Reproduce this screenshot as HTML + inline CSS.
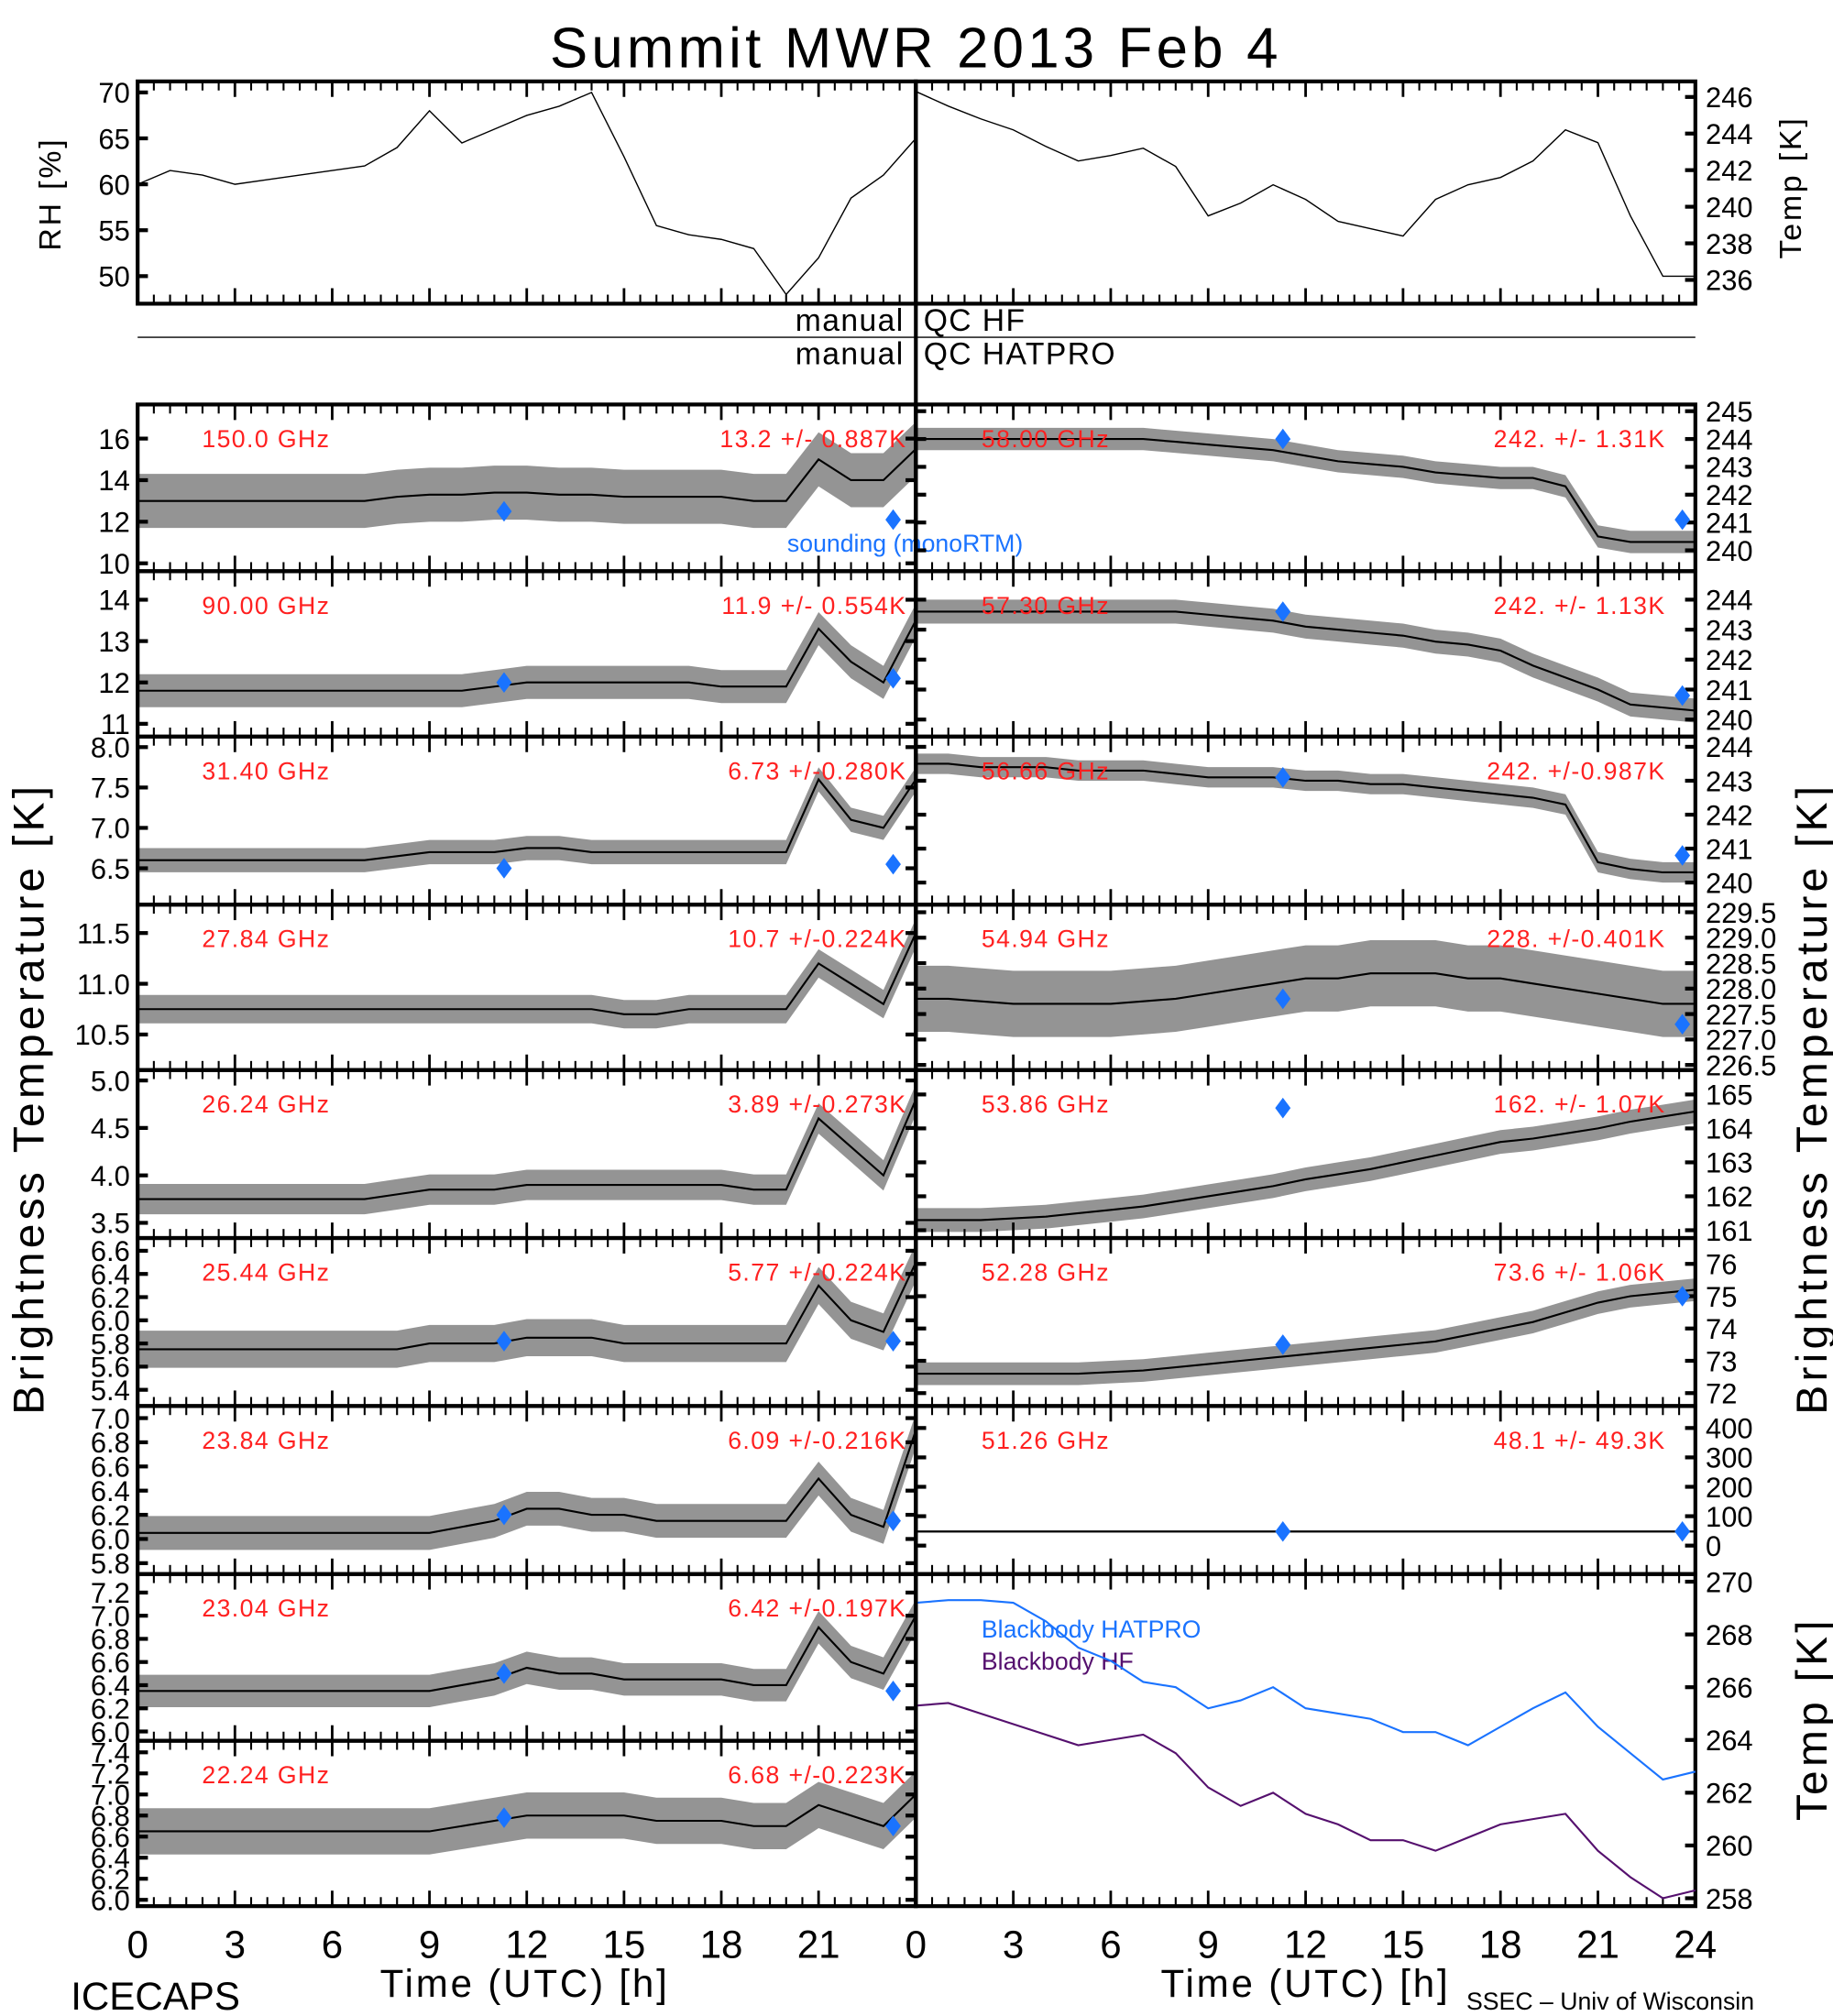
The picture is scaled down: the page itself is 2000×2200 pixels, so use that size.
<!DOCTYPE html>
<html><head><meta charset="utf-8"><style>
html,body{margin:0;padding:0;background:#fff}
svg{display:block}
text{font-family:"Liberation Sans",sans-serif}
</style></head><body>
<svg id="chart" xmlns="http://www.w3.org/2000/svg" width="2000" height="2200" viewBox="0 0 1425 1560" preserveAspectRatio="none">
<text x="712" y="52" font-size="44" text-anchor="middle" letter-spacing="3">Summit  MWR  2013  Feb   4</text>
<text x="703" y="256" font-size="24" text-anchor="end" letter-spacing="1">manual</text>
<text x="718" y="256" font-size="24" letter-spacing="1">QC  HF</text>
<line x1="107" y1="261" x2="1318" y2="261" stroke="#000" stroke-width="1"/>
<text x="703" y="282" font-size="24" text-anchor="end" letter-spacing="1">manual</text>
<text x="718" y="282" font-size="24" letter-spacing="1">QC  HATPRO</text>
<text transform="translate(47,150) rotate(-90)" font-size="24" text-anchor="middle" letter-spacing="2">RH  [%]</text>
<text transform="translate(1400,145) rotate(-90)" font-size="24" text-anchor="middle" letter-spacing="2">Temp  [K]</text>
<text transform="translate(34,850) rotate(-90)" font-size="34" text-anchor="middle" letter-spacing="3">Brightness  Temperature  [K]</text>
<text transform="translate(1420,850) rotate(-90)" font-size="34" text-anchor="middle" letter-spacing="3">Brightness  Temperature  [K]</text>
<text transform="translate(1420,1330) rotate(-90)" font-size="34" text-anchor="middle" letter-spacing="3">Temp  [K]</text>
<text x="408" y="1545" font-size="30" text-anchor="middle" letter-spacing="2">Time  (UTC)  [h]</text>
<text x="1015" y="1545" font-size="30" text-anchor="middle" letter-spacing="2">Time  (UTC)  [h]</text>
<text x="55" y="1555" font-size="30">ICECAPS</text>
<text x="1140" y="1555" font-size="19">SSEC  –  Univ of Wisconsin</text>
<text x="612" y="427" font-size="19" fill="#1a73ff">sounding  (monoRTM)</text>
<text x="763" y="1267" font-size="19" fill="#1a73ff">Blackbody  HATPRO</text>
<text x="763" y="1292" font-size="19" fill="#55106e">Blackbody  HF</text>
<g id="plots"></g>
</svg>
<script>
// hourly samples 0..24 h
const hours = [0,1,2,3,4,5,6,7,8,9,10,11,12,13,14,15,16,17,18,19,20,21,22,23,24];
const xTickLabels = ["0","3","6","9","12","15","18","21"];
const xTickLabelsRight = ["0","3","6","9","12","15","18","21","24"];
// top panels
const rhValues = [60,61.5,61,60,60.5,61,61.5,62,64,68,64.5,66,67.5,68.5,70,63,55.5,54.5,54,53,48,52,58.5,61,65];
const tempValues = [246.3,245.5,244.8,244.2,243.3,242.5,242.8,243.2,242.2,239.5,240.2,241.2,240.4,239.2,238.8,238.4,240.4,241.2,241.6,242.5,244.2,243.5,239.5,236.2,236.2];
const rhTicks = [50,55,60,65,70];
const tempTicks = [236,238,240,242,244,246];
// left channel panels
const leftFreqs = ["150.0 GHz","90.00 GHz","31.40 GHz","27.84 GHz","26.24 GHz","25.44 GHz","23.84 GHz","23.04 GHz","22.24 GHz"];
const leftStats = ["13.2 +/- 0.887K","11.9 +/- 0.554K","6.73 +/-0.280K","10.7 +/-0.224K","3.89 +/-0.273K","5.77 +/-0.224K","6.09 +/-0.216K","6.42 +/-0.197K","6.68 +/-0.223K"];
const leftCenter = [
 [13,13,13,13,13,13,13,13,13.2,13.3,13.3,13.4,13.4,13.3,13.3,13.2,13.2,13.2,13.2,13,13,15,14,14,15.5],
 [11.8,11.8,11.8,11.8,11.8,11.8,11.8,11.8,11.8,11.8,11.8,11.9,12,12,12,12,12,12,11.9,11.9,11.9,13.3,12.5,12.0,13.5],
 [6.6,6.6,6.6,6.6,6.6,6.6,6.6,6.6,6.65,6.7,6.7,6.7,6.75,6.75,6.7,6.7,6.7,6.7,6.7,6.7,6.7,7.6,7.1,7.0,7.6],
 [10.75,10.75,10.75,10.75,10.75,10.75,10.75,10.75,10.75,10.75,10.75,10.75,10.75,10.75,10.75,10.7,10.7,10.75,10.75,10.75,10.75,11.2,11.0,10.8,11.5],
 [3.75,3.75,3.75,3.75,3.75,3.75,3.75,3.75,3.8,3.85,3.85,3.85,3.9,3.9,3.9,3.9,3.9,3.9,3.9,3.85,3.85,4.6,4.3,4.0,4.8],
 [5.75,5.75,5.75,5.75,5.75,5.75,5.75,5.75,5.75,5.8,5.8,5.8,5.85,5.85,5.85,5.8,5.8,5.8,5.8,5.8,5.8,6.3,6.0,5.9,6.5],
 [6.05,6.05,6.05,6.05,6.05,6.05,6.05,6.05,6.05,6.05,6.1,6.15,6.25,6.25,6.2,6.2,6.15,6.15,6.15,6.15,6.15,6.5,6.2,6.1,6.9],
 [6.35,6.35,6.35,6.35,6.35,6.35,6.35,6.35,6.35,6.35,6.4,6.45,6.55,6.5,6.5,6.45,6.45,6.45,6.45,6.4,6.4,6.9,6.6,6.5,7.0],
 [6.65,6.65,6.65,6.65,6.65,6.65,6.65,6.65,6.65,6.65,6.7,6.75,6.8,6.8,6.8,6.8,6.75,6.75,6.75,6.7,6.7,6.9,6.8,6.7,7.0]
];
const leftSpread = [1.3,0.4,0.15,0.14,0.16,0.16,0.14,0.14,0.22];
const leftTicks = [[10,12,14,16],[11,12,13,14],[6.5,7.0,7.5,8.0],[10.5,11.0,11.5],[3.5,4.0,4.5,5.0],[5.4,5.6,5.8,6.0,6.2,6.4,6.6],[5.8,6.0,6.2,6.4,6.6,6.8,7.0],[6.0,6.2,6.4,6.6,6.8,7.0,7.2],[6.0,6.2,6.4,6.6,6.8,7.0,7.2,7.4]];
const leftRange = [[9.62,17.64],[10.69,14.69],[6.05,8.13],[10.15,11.78],[3.34,5.11],[5.26,6.71],[5.71,7.10],[5.92,7.36],[5.94,7.51]];
const leftDiamonds = [[12.5,12.1],[12.0,12.1],[6.5,6.55],[null,null],[null,null],[5.82,5.82],[6.2,6.15],[6.5,6.35],[6.78,6.7]];
const sondeHours = [11.3,23.3];
const sondeHoursRight = [11.3,23.6];
// right channel panels
const rightFreqs = ["58.00 GHz","57.30 GHz","56.66 GHz","54.94 GHz","53.86 GHz","52.28 GHz","51.26 GHz"];
const rightStats = ["242. +/- 1.31K","242. +/- 1.13K","242. +/-0.987K","228. +/-0.401K","162. +/- 1.07K","73.6 +/- 1.06K","48.1 +/- 49.3K"];
const rightCenter = [
 [244,244,244,244,244,244,244,244,243.9,243.8,243.7,243.6,243.4,243.2,243.1,243,242.8,242.7,242.6,242.6,242.3,240.5,240.3,240.3,240.3],
 [243.6,243.6,243.6,243.6,243.6,243.6,243.6,243.6,243.6,243.5,243.4,243.3,243.1,243,242.9,242.8,242.6,242.5,242.3,241.8,241.4,241.0,240.5,240.4,240.3],
 [243.5,243.5,243.4,243.4,243.4,243.3,243.3,243.3,243.2,243.1,243.1,243.1,243,243,242.9,242.9,242.8,242.7,242.6,242.5,242.3,240.6,240.4,240.3,240.3],
 [227.8,227.8,227.75,227.7,227.7,227.7,227.7,227.75,227.8,227.9,228,228.1,228.2,228.2,228.3,228.3,228.3,228.2,228.2,228.1,228,227.9,227.8,227.7,227.7],
 [161.3,161.3,161.3,161.35,161.4,161.5,161.6,161.7,161.85,162,162.15,162.3,162.5,162.65,162.8,163,163.2,163.4,163.6,163.7,163.85,164,164.2,164.35,164.5],
 [72.6,72.6,72.6,72.6,72.6,72.6,72.65,72.7,72.8,72.9,73,73.1,73.2,73.3,73.4,73.5,73.6,73.8,74,74.2,74.5,74.8,75,75.1,75.2],
 [48,48,48,48,48,48,48,48,48,48,48,48,48,48,48,48,48,48,48,48,48,48,48,48,48]
];
const rightSpread = [0.4,0.4,0.3,0.65,0.35,0.35,4];
const rightTicks = [[240,241,242,243,244,245],[240,241,242,243,244],[240,241,242,243,244],[226.5,227.0,227.5,228.0,228.5,229.0,229.5],[161,162,163,164,165],[72,73,74,75,76],[0,100,200,300,400]];
const rightRange = [[239.25,245.24],[239.43,244.95],[239.35,244.3],[226.4,229.65],[160.77,165.72],[71.6,76.8],[-96.7,474.7]];
const rightDiamonds = [[244.0,241.1],[243.6,240.8],[243.1,240.8],[227.8,227.3],[164.6,null],[73.5,75.0],[48,48]];
// blackbody
const bbHatpro = [269.2,269.3,269.3,269.2,268.5,267.5,267,266.2,266,265.2,265.5,266,265.2,265,264.8,264.3,264.3,263.8,264.5,265.2,265.8,264.5,263.5,262.5,262.8];
const bbHF = [265.3,265.4,265,264.6,264.2,263.8,264,264.2,263.5,262.2,261.5,262,261.2,260.8,260.2,260.2,259.8,260.3,260.8,261,261.2,259.8,258.8,258,258.3];
const bbTicks = [258,260,262,264,266,268,270];
const bbRange = [257.7,270.29];

const NS="http://www.w3.org/2000/svg";
const root=document.getElementById('plots');
function mk(tag,attrs,parent){const e=document.createElementNS(NS,tag);for(const k in attrs)e.setAttribute(k,attrs[k]);(parent||root).appendChild(e);return e;}
const LX0=107,LX1=712,RX0=712,RX1=1318;
function xs(x0,x1){return h=>x0+(x1-x0)*h/24;}
function ys(y0,y1,lo,hi){return v=>y1-(v-lo)/(hi-lo)*(y1-y0);}

function frame(x0,x1,y0,y1,name){
  const g=mk('g',{});
  
  
  const X=xs(x0,x1);
  for(let h=0;h<=24;h+=0.5){
    const major=(h%3===0);const L=major?12:7;
    mk('line',{x1:X(h),x2:X(h),y1:y1,y2:y1-L,stroke:'#000','stroke-width':major?2:1.5},g);
    mk('line',{x1:X(h),x2:X(h),y1:y0,y2:y0+L,stroke:'#000','stroke-width':major?2:1.5},g);
  }
  mk('rect',{x:x0,y:y0,width:x1-x0,height:y1-y0,fill:'none',stroke:'#000','stroke-width':3},g);
  return g;
}
function yTicks(g,x,ticks,Y,side,labels){
  ticks.forEach(t=>{
    const y=Y(t);
    mk('line',{x1:x,x2:x+(side==='left'?8:-8),y1:y,y2:y,stroke:'#000','stroke-width':3},g);
    if(labels){
      const tx=mk('text',{x:side==='left'?x-6:x+8,y:y+8,'font-size':22,'text-anchor':side==='left'?'end':'start'},g);
      
      
      tx.textContent=(Math.abs(t%1)>0||ticks.some(v=>v%1))?t.toFixed(1):String(t);
    }
  });
}
function band(g,X,Y,center,spread,name){
  let up=[],dn=[];
  hours.forEach((h,i)=>{up.push(X(h)+','+Y(center[i]+spread));dn.unshift(X(h)+','+Y(center[i]-spread));});
  const p=mk('polygon',{points:up.concat(dn).join(' '),fill:'#000','fill-opacity':0.42},g);
  
  
  const l=mk('polyline',{points:hours.map((h,i)=>X(h)+','+Y(center[i])).join(' '),fill:'none',stroke:'#000','stroke-width':1.5},g);
  
  
}
function diamond(g,x,y){
  const d=mk('polygon',{points:`${x},${y-8} ${x+6},${y} ${x},${y+8} ${x-6},${y}`,fill:'#1a73ff'},g);
  
  
}
function redText(g,x,y,s,anchor,name){
  const t=mk('text',{x:x,y:y,'font-size':19,fill:'#ff2020','text-anchor':anchor,'letter-spacing':1},g);
  
  
  t.textContent=s;
}

// top panels
(function(){
  const g=frame(LX0,LX1,63,235,'rh-panel');
  const X=xs(LX0,LX1),Y=ys(63,235,47,71.2);
  const l=mk('polyline',{points:hours.map((h,i)=>X(h)+','+Y(rhValues[i])).join(' '),fill:'none',stroke:'#000','stroke-width':1},g);
  
  
  yTicks(g,LX0,rhTicks,Y,'left',true);
  const g2=frame(RX0,RX1,63,235,'temp-panel');
  const X2=xs(RX0,RX1),Y2=ys(63,235,234.7,246.85);
  const l2=mk('polyline',{points:hours.map((h,i)=>X2(h)+','+Y2(tempValues[i])).join(' '),fill:'none',stroke:'#000','stroke-width':1},g2);
  
  
  yTicks(g2,RX1,tempTicks,Y2,'right',true);
})();

const rowTop=[313,442,570,700,828,958,1088,1218,1347];
const rowBot=[442,570,700,828,958,1088,1218,1347,1475];
leftFreqs.forEach((f,i)=>{
  const y0=rowTop[i],y1=rowBot[i];
  const g=frame(LX0,LX1,y0,y1,'left-panel-'+f.replace(/[ .]/g,''));
  const X=xs(LX0,LX1),Y=ys(y0,y1,leftRange[i][0],leftRange[i][1]);
  band(g,X,Y,leftCenter[i],leftSpread[i],'tb-series');
  yTicks(g,LX0,leftTicks[i],Y,'left',true);
  yTicks(g,LX1,leftTicks[i],Y,'right',false);
  leftDiamonds[i].forEach((v,j)=>{if(v!==null)diamond(g,X(sondeHours[j]),Y(v));});
  redText(g,157,y0+33,f,'start','frequency-label');
  redText(g,705,y0+33,leftStats[i],'end','stats-label');
});
rightFreqs.forEach((f,i)=>{
  const y0=rowTop[i],y1=rowBot[i];
  const g=frame(RX0,RX1,y0,y1,'right-panel-'+f.replace(/[ .]/g,''));
  const X=xs(RX0,RX1),Y=ys(y0,y1,rightRange[i][0],rightRange[i][1]);
  band(g,X,Y,rightCenter[i],rightSpread[i],'tb-series');
  yTicks(g,RX1,rightTicks[i],Y,'right',true);
  yTicks(g,RX0,rightTicks[i],Y,'left',false);
  rightDiamonds[i].forEach((v,j)=>{if(v!==null)diamond(g,X(sondeHoursRight[j]),Y(v));});
  redText(g,763,y0+33,f,'start','frequency-label');
  redText(g,1295,y0+33,rightStats[i],'end','stats-label');
});
// blackbody panel
(function(){
  const y0=1218,y1=1475;
  const g=frame(RX0,RX1,y0,y1,'blackbody-panel');
  const X=xs(RX0,RX1),Y=ys(y0,y1,bbRange[0],bbRange[1]);
  const a=mk('polyline',{points:hours.map((h,i)=>X(h)+','+Y(bbHatpro[i])).join(' '),fill:'none',stroke:'#1a73ff','stroke-width':1.5},g);
  
  
  const b=mk('polyline',{points:hours.map((h,i)=>X(h)+','+Y(bbHF[i])).join(' '),fill:'none',stroke:'#55106e','stroke-width':1.5},g);
  
  
  yTicks(g,RX1,bbTicks,Y,'right',true);
})();
// central divider
const dv=mk('line',{x1:712,x2:712,y1:63,y2:1475,stroke:'#000','stroke-width':3});


// x tick labels
const XL=xs(LX0,LX1),XR=xs(RX0,RX1);
xTickLabels.forEach((s,i)=>{
  const t=mk('text',{x:XL(i*3),y:1515,'font-size':30,'text-anchor':'middle'});
  
  
  t.textContent=s;
});
xTickLabelsRight.forEach((s,i)=>{
  const t=mk('text',{x:XR(i*3),y:1515,'font-size':30,'text-anchor':'middle'});
  
  
  t.textContent=s;
});
</script>
</body></html>
